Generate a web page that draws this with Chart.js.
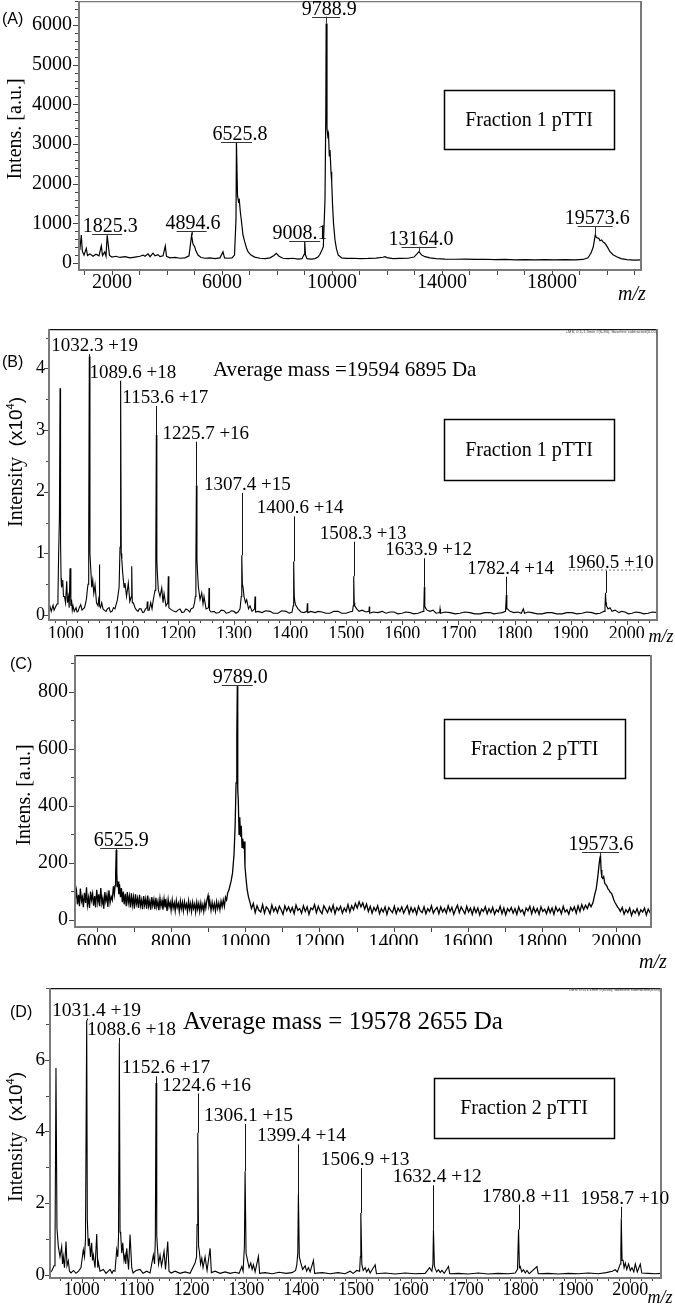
<!DOCTYPE html>
<html><head><meta charset="utf-8">
<script src="https://cdn.jsdelivr.net/npm/chart.js@4.4.1/dist/chart.umd.min.js"></script>
<style>
html,body{margin:0;padding:0;background:#fff;}
body{width:675px;height:1311px;position:relative;overflow:hidden;}
canvas{position:absolute;left:0;}
</style></head><body>
<canvas id="cA"></canvas>
<canvas id="cB"></canvas>
<canvas id="cC"></canvas>
<canvas id="cD"></canvas>
<script>
// ---------------- DATA ----------------
// Panel A: MALDI spectrum, Fraction 1 (m/z, intensity a.u.)
const mzA = [800,836,884,920,982,1065,1109,1200,1309,1418,1527,1611,1655,1735,1782,1825,1909,2000,2145,2291,2473,2655,2836,3018,3127,3200,3309,3382,3491,3564,3673,3745,3855,3938,3982,4109,4291,4473,4655,4800,4894,4945,5007,5055,5127,5236,5382,5564,5745,5927,6036,6091,6218,6364,6455,6509,6525,6564,6600,6629,6665,6702,6764,6825,6891,6945,7055,7189,7382,7564,7745,7891,7975,8073,8218,8400,8582,8764,8909,8989,9008,9036,9091,9236,9382,9491,9564,9618,9684,9745,9775,9788,9818,9847,9873,9902,9927,9964,9989,10018,10055,10109,10164,10229,10353,10509,10727,11018,11309,11600,11855,11927,12000,12218,12473,12764,12982,13091,13164,13262,13382,13564,13782,14109,14473,14836,15200,15564,15927,16291,16655,17018,17382,17745,18109,18473,18836,19127,19309,19418,19502,19573,19618,19702,19745,19807,19865,19927,20018,20109,20218,20353,20509,20727,20982,21273];
const intA = [350,380,706,300,200,370,190,230,170,220,180,430,190,280,170,700,190,150,170,140,160,130,150,170,200,170,230,160,250,180,210,160,180,428,170,130,140,120,130,180,700,480,410,300,200,140,120,130,110,130,285,130,120,130,200,1100,3050,1700,1550,1590,1300,1084,700,537,380,285,200,150,120,110,130,190,244,170,120,110,120,100,110,220,537,200,110,100,110,150,220,300,410,1590,3800,6040,3400,3200,3270,2700,2850,2300,2050,1500,1000,580,350,200,130,115,120,110,115,125,145,160,135,110,115,120,150,230,285,200,160,130,110,100,95,100,90,95,85,90,80,85,80,85,80,85,80,90,130,250,410,706,640,622,560,580,520,497,400,285,210,160,110,85,75,80];

// Panel B: ESI spectrum, Fraction 1 ([m/z, intensity x10^4])
const specB = [[970,0.1],[971.8,0.14],[974,0.06],[977.2,0.16],[979,0.08],[981,0.12],[984.3,0.18],[986,0.3],[987,0.9],[988.6,1.6],[989.7,3.68],[990.6,1.2],[991.5,0.6],[992.3,0.45],[993.3,0.5],[994.5,0.57],[995.8,0.3],[997.7,0.3],[999.5,0.2],[1001.6,0.55],[1003,0.2],[1004.8,0.3],[1006,0.12],[1007.5,0.76],[1009,0.15],[1010.2,0.25],[1011.5,0.08],[1012.8,0.15],[1015,0.06],[1018.2,0.12],[1020,0.05],[1021.8,0.06],[1024,0.12],[1026.6,0.17],[1028.9,0.08],[1031,0.1],[1033.3,0.12],[1035.5,0.2],[1037,0.28],[1038.3,0.41],[1039.6,0.5],[1040.8,1.3],[1041.9,4.2],[1043,1.0],[1044.4,0.76],[1046.2,0.45],[1048,0.57],[1049.9,0.35],[1052.1,0.49],[1054.7,0.2],[1057.4,0.15],[1059.2,0.3],[1059.7,0.82],[1060.6,0.15],[1061.9,0.12],[1064,0.2],[1066.3,0.1],[1068.5,0.08],[1071.7,0.06],[1074,0.1],[1077,0.12],[1079.5,0.05],[1082.4,0.06],[1085,0.12],[1087.7,0.1],[1090,0.18],[1092,0.25],[1093.6,0.36],[1095,0.45],[1096.6,1.1],[1097.7,3.8],[1098.8,1.0],[1099.8,0.9],[1101.4,0.68],[1103.8,0.45],[1105.5,0.52],[1108.2,0.3],[1111.4,0.52],[1114.1,0.22],[1116.8,0.3],[1117.5,0.79],[1118.5,0.2],[1120.3,0.2],[1123.4,0.12],[1126,0.08],[1128.7,0.06],[1131,0.1],[1134.1,0.1],[1137,0.04],[1139.4,0.05],[1142,0.1],[1144.6,0.12],[1145.3,0.22],[1146.3,0.08],[1148.5,0.08],[1151.4,0.2],[1153.7,0.1],[1156,0.25],[1158,0.35],[1159.1,0.4],[1160.4,1.0],[1161.4,2.92],[1162.3,0.9],[1163.1,0.7],[1164.9,0.41],[1167.9,0.3],[1171,0.44],[1173.3,0.2],[1175.1,0.35],[1178.6,0.15],[1181.8,0.2],[1182.7,0.63],[1183.7,0.12],[1186,0.1],[1189.3,0.08],[1193,0.06],[1196.5,0.05],[1200,0.08],[1203.6,0.1],[1207,0.04],[1210.7,0.05],[1214,0.1],[1217.9,0.08],[1221,0.05],[1223.2,0.1],[1227.3,0.12],[1229.5,0.2],[1230.9,0.3],[1231.9,0.9],[1232.8,2.1],[1233.8,0.9],[1234.8,0.7],[1236.3,0.46],[1239.3,0.25],[1242.3,0.36],[1244.6,0.18],[1246.4,0.3],[1250,0.1],[1254.5,0.12],[1255.3,0.44],[1256.2,0.08],[1259,0.05],[1264.2,0.06],[1268,0.03],[1273.1,0.04],[1277,0.08],[1282.1,0.07],[1286,0.03],[1291,0.04],[1295,0.07],[1299.9,0.06],[1303,0.03],[1307,0.05],[1310.6,0.1],[1312.8,0.3],[1313.4,0.5],[1314,0.97],[1314.8,0.5],[1316,0.45],[1317.7,0.3],[1320.4,0.2],[1322.5,0.25],[1325.7,0.1],[1328.4,0.15],[1332,0.06],[1336.5,0.1],[1337.3,0.3],[1338.3,0.05],[1343,0.06],[1349.8,0.04],[1356,0.07],[1364.1,0.06],[1370,0.03],[1378.3,0.03],[1385,0.07],[1392.6,0.06],[1398,0.03],[1403.3,0.05],[1405.4,0.15],[1406,0.4],[1406.5,0.87],[1407.3,0.3],[1408.6,0.2],[1410.4,0.15],[1414,0.1],[1419.3,0.05],[1424.7,0.04],[1429.8,0.06],[1430.6,0.19],[1431.4,0.04],[1437,0.06],[1444.3,0.04],[1450,0.06],[1456.8,0.05],[1464,0.03],[1471,0.03],[1478,0.06],[1485.3,0.06],[1492,0.03],[1499.6,0.03],[1506,0.05],[1511.2,0.06],[1512.4,0.15],[1513.3,0.63],[1514.2,0.2],[1515.1,0.15],[1518.6,0.1],[1522.8,0.06],[1528.1,0.08],[1535.2,0.05],[1540.4,0.06],[1541.1,0.14],[1541.8,0.03],[1548,0.05],[1556.6,0.04],[1564,0.06],[1570.9,0.03],[1578,0.05],[1585.2,0.05],[1592,0.02],[1599.4,0.03],[1606,0.05],[1613.7,0.04],[1620,0.02],[1628,0.03],[1634,0.05],[1636.9,0.06],[1638.3,0.12],[1639.2,0.46],[1640,0.15],[1641,0.12],[1644,0.08],[1649.4,0.06],[1654.7,0.08],[1660,0.03],[1666.5,0.04],[1667.2,0.1],[1668,0.03],[1676,0.05],[1685,0.04],[1694,0.02],[1702.8,0.03],[1711,0.05],[1720.7,0.04],[1729,0.02],[1738.5,0.02],[1747,0.04],[1756.3,0.04],[1763,0.02],[1770.6,0.03],[1778,0.04],[1784,0.06],[1785.4,0.33],[1786.3,0.1],[1787.2,0.1],[1792,0.06],[1799.1,0.04],[1806.2,0.05],[1812,0.03],[1815.7,0.1],[1817.8,0.03],[1824,0.05],[1831.2,0.04],[1840,0.02],[1849,0.02],[1858,0.04],[1866.9,0.04],[1875,0.02],[1884.7,0.02],[1893,0.04],[1902.5,0.04],[1911,0.02],[1920.4,0.03],[1929,0.05],[1938.2,0.04],[1945,0.02],[1952.4,0.03],[1959.6,0.06],[1961.3,0.12],[1962.2,0.36],[1963.1,0.2],[1964,0.15],[1966.7,0.1],[1970.3,0.12],[1973.8,0.06],[1979.2,0.08],[1986.3,0.04],[1991,0.06],[1997,0.05],[2003,0.02],[2009.5,0.03],[2016,0.05],[2023.8,0.04],[2030,0.02],[2038,0.03],[2046,0.05],[2055,0.04]];

// Panel C: MALDI spectrum, Fraction 2 ([m/z, intensity a.u.])
const specC = [[5420,70],[5455,102],[5480,55],[5510,88],[5535,48],[5560,110],[5590,66],[5615,80],[5640,45],[5670,95],[5700,60],[5725,115],[5750,52],[5780,78],[5805,42],[5835,100],[5860,70],[5890,92],[5915,50],[5945,84],[5970,44],[6000,106],[6030,62],[6055,90],[6080,48],[6110,112],[6140,58],[6165,76],[6190,40],[6220,98],[6245,66],[6275,88],[6300,46],[6330,104],[6360,60],[6390,82],[6420,70],[6450,118],[6475,90],[6495,120],[6510,160],[6526,245],[6540,170],[6555,115],[6575,135],[6595,90],[6615,125],[6640,80],[6665,112],[6690,62],[6715,100],[6740,55],[6770,92],[6795,48],[6825,98],[6850,60],[6880,84],[6905,44],[6935,94],[6960,52],[6990,80],[7015,40],[7045,90],[7070,56],[7100,76],[7125,42],[7155,88],[7180,50],[7210,70],[7235,38],[7265,84],[7290,52],[7320,74],[7345,40],[7375,86],[7400,48],[7430,68],[7455,36],[7485,80],[7510,50],[7540,72],[7565,38],[7595,78],[7620,46],[7650,66],[7675,34],[7705,76],[7730,48],[7760,68],[7785,36],[7815,74],[7840,44],[7870,64],[7895,32],[7925,72],[7950,46],[7980,62],[8005,34],[8035,70],[8060,42],[8090,60],[8115,32],[8145,68],[8170,44],[8200,58],[8225,30],[8255,66],[8280,40],[8310,62],[8335,32],[8365,64],[8390,42],[8420,56],[8445,30],[8475,66],[8500,38],[8530,58],[8555,30],[8585,62],[8610,40],[8640,56],[8665,28],[8695,62],[8720,38],[8750,58],[8775,30],[8805,60],[8830,36],[8860,54],[8885,30],[8915,62],[8940,42],[8970,70],[9000,86],[9025,50],[9050,64],[9080,34],[9110,62],[9140,38],[9170,58],[9200,32],[9230,64],[9260,40],[9290,60],[9320,36],[9350,66],[9380,46],[9410,70],[9440,48],[9470,80],[9500,70],[9530,96],[9560,104],[9590,120],[9620,135],[9660,165],[9700,230],[9730,330],[9755,480],[9775,640],[9789,823],[9800,455],[9815,420],[9835,300],[9855,360],[9875,292],[9895,330],[9915,255],[9935,285],[9955,250],[9975,275],[9995,187],[10020,150],[10050,110],[10090,80],[10130,62],[10170,40],
[10220,58],[10270,26],[10320,50],[10370,34],[10420,28],[10470,54],[10520,24],[10570,46],[10620,38],[10670,22],[10720,52],[10770,30],[10820,44],[10870,26],[10920,48],[10970,36],[11020,20],[11070,50],[11120,32],[11170,46],
[11220,28],[11270,44],[11320,22],[11370,52],[11420,34],[11470,40],[11520,24],[11570,50],[11620,30],[11670,46],[11720,20],[11770,42],[11820,36],[11870,54],[11920,26],[11970,48],[12020,32],[12070,22],[12120,50],[12170,38],
[12220,26],[12270,46],[12320,30],[12370,52],[12420,22],[12470,44],[12520,34],[12570,48],[12620,24],[12670,42],[12720,30],[12770,54],[12820,28],[12870,50],[12920,36],[12970,58],[13020,42],[13070,64],[13120,46],[13170,60],
[13220,38],[13270,56],[13320,30],[13370,48],[13420,24],[13470,44],[13520,32],[13570,50],[13620,22],[13670,40],[13720,28],[13770,46],[13820,20],[13870,44],[13920,34],[13970,26],[14020,48],[14070,22],[14120,42],[14170,30],
[14220,46],[14270,24],[14320,38],[14370,50],[14420,22],[14470,44],[14520,28],[14570,42],[14620,20],[14670,48],[14720,32],[14770,26],[14820,46],[14870,22],[14920,40],[14970,30],[15020,50],[15070,24],[15120,36],[15170,44],
[15220,22],[15270,46],[15320,28],[15370,40],[15420,24],[15470,50],[15520,30],[15570,44],[15620,20],[15670,38],[15720,52],[15770,26],[15820,46],[15870,34],[15920,22],[15970,48],[16020,28],[16070,42],[16120,20],[16170,44],
[16220,26],[16270,42],[16320,18],[16370,38],[16420,30],[16470,46],[16520,22],[16570,40],[16620,26],[16670,44],[16720,20],[16770,36],[16820,28],[16870,48],[16920,22],[16970,42],[17020,18],[17070,40],[17120,30],[17170,44],
[17220,24],[17270,40],[17320,20],[17370,46],[17420,28],[17470,36],[17520,18],[17570,42],[17620,32],[17670,48],[17720,22],[17770,44],[17820,26],[17870,40],[17920,20],[17970,46],[18020,30],[18070,38],[18120,22],[18170,44],
[18220,26],[18270,42],[18320,20],[18370,46],[18420,30],[18470,40],[18520,22],[18570,48],[18620,28],[18670,36],[18720,20],[18770,44],[18820,32],[18870,46],[18920,24],[18970,50],[19020,30],[19070,54],[19120,36],[19170,52],
[19220,40],[19270,58],[19320,46],[19370,60],[19420,90],[19460,110],[19500,150],[19530,187],[19555,215],[19574,225],[19590,175],[19610,150],[19635,146],[19660,152],[19690,128],[19720,124],[19750,118],[19780,108],[19810,104],[19840,96],[19870,94],[19900,84],[19930,72],[19960,62],[19990,56],[20030,46],[20070,40],[20110,30],[20160,44],[20210,20],[20260,36],[20310,26],[20360,42],[20410,16],[20460,34],[20510,24],[20560,40],[20610,18],[20660,36],[20710,28],[20760,42],[20810,18],[20860,38],[20910,26],[20960,40]];

// Panel D: ESI spectrum, Fraction 2 ([m/z, intensity x10^4])
const specD = [[942.2,0.05],[945.8,0.12],[949.5,0.25],[951.3,0.6],[953.1,5.77],[954.9,1.3],[957.3,0.8],[960.4,0.5],[963.5,0.79],[965,0.3],[966.4,0.51],[968.6,0.2],[971.4,0.93],[973.2,0.25],[975.6,0.39],[977.7,0.1],[980.5,0.05],[985,0.12],[989.6,0.04],[994.2,0.1],[998.7,0.2],[1002.9,0.7],[1005.1,0.5],[1006.9,1.0],[1009.1,7.1],[1010.2,1.54],[1012,0.8],[1013.9,1.02],[1016,0.5],[1018.2,0.89],[1019.7,0.4],[1021.2,0.55],[1024.3,0.2],[1027.4,1.14],[1029.2,0.2],[1030.3,0.35],[1033.4,0.1],[1039.4,0.15],[1044.3,0.04],[1051.6,0.15],[1055.3,0.04],[1057.6,0.12],[1060.7,0.1],[1063.8,0.7],[1065.8,0.5],[1067.1,1.07],[1068.6,6.47],[1069.9,1.2],[1071.1,1.12],[1073,0.6],[1074.8,0.89],[1077.2,0.4],[1079,0.55],[1080.4,0.3],[1082.1,0.74],[1085.4,0.15],[1088.1,1.12],[1091.2,0.2],[1093.6,0.05],[1099,0.12],[1106.3,0.15],[1111.8,0.04],[1118.5,0.1],[1124.6,0.05],[1130.6,0.55],[1132.8,0.3],[1134.2,1.0],[1135.5,5.35],[1136.8,1.1],[1137.9,0.79],[1140.1,0.3],[1142.8,0.55],[1145.5,0.25],[1147.4,0.4],[1150.1,0.65],[1152.8,0.15],[1156.8,0.93],[1159.2,0.1],[1162.9,0.05],[1170.2,0.1],[1179.3,0.04],[1188.4,0.08],[1197.5,0.04],[1206.6,0.33],[1209.4,0.5],[1210.3,1.4],[1211.6,3.96],[1213,0.8],[1214.5,0.65],[1216.7,0.3],[1218.9,0.46],[1221.2,0.2],[1224.9,0.5],[1228.5,0.12],[1234,0.74],[1236.4,0.06],[1243.1,0.1],[1252.2,0.04],[1261.4,0.08],[1270.5,0.04],[1279.6,0.07],[1286.9,0.04],[1291.8,0.23],[1294.2,0.1],[1296.6,0.8],[1297.8,2.89],[1299.6,0.6],[1302,0.42],[1305.1,0.2],[1308.2,0.33],[1310.6,0.15],[1313,0.28],[1316.1,0.08],[1322.1,0.51],[1324.3,0.04],[1334.3,0.06],[1347.1,0.03],[1359.8,0.07],[1372.6,0.04],[1383.5,0.06],[1389.9,0.12],[1392.1,0.28],[1393.9,0.6],[1395,2.25],[1396.7,0.5],[1399.4,0.33],[1402.7,0.15],[1407.3,0.25],[1410,0.1],[1413.3,0.2],[1416.4,0.08],[1422.4,0.4],[1424.6,0.04],[1438.3,0.06],[1452.9,0.03],[1467.4,0.06],[1480.2,0.03],[1489.3,0.1],[1494.8,0.04],[1501.5,0.12],[1506.6,0.1],[1507.9,0.5],[1508.8,1.72],[1510.7,0.28],[1513,0.12],[1516.7,0.2],[1519.4,0.08],[1522.7,0.17],[1525.8,0.05],[1534.9,0.28],[1537.3,0.03],[1553.2,0.05],[1571.4,0.02],[1589.6,0.05],[1607.9,0.03],[1626.1,0.04],[1634,0.2],[1638.3,0.1],[1640.2,0.3],[1641.2,1.26],[1642.9,0.25],[1644.4,0.17],[1647.1,0.08],[1650.4,0.14],[1653.5,0.06],[1656.6,0.12],[1660.8,0.04],[1668.6,0.23],[1670.8,0.03],[1686.3,0.04],[1704.5,0.02],[1722.8,0.05],[1741,0.02],[1759.2,0.04],[1777.5,0.03],[1790.2,0.05],[1794.4,0.15],[1796.3,1.26],[1797.9,0.2],[1799.4,0.23],[1802.1,0.08],[1805.4,0.14],[1808.5,0.05],[1811.6,0.12],[1815.8,0.03],[1829.8,0.23],[1832.2,0.03],[1850.4,0.04],[1868.7,0.02],[1886.9,0.04],[1905.2,0.03],[1923.4,0.05],[1941.7,0.03],[1956.2,0.06],[1967.2,0.1],[1972.6,0.14],[1976.3,0.08],[1981.7,0.3],[1982.8,0.7],[1983.6,1.58],[1985,0.4],[1986.7,0.42],[1988.7,0.2],[1990.9,0.33],[1993.6,0.15],[1996.9,0.3],[2000,0.12],[2003.1,0.2],[2006.4,0.08],[2009.1,0.3],[2012.8,0.08],[2018.2,0.3],[2020.9,0.05],[2032.8,0.04],[2045.5,0.03],[2056.4,0.04]];

// Tick labels (major ticks)
const ticksAX = [2000,6000,10000,14000,18000];
const ticksAY = [0,1000,2000,3000,4000,5000,6000];
const ticksBX = [1000,1100,1200,1300,1400,1500,1600,1700,1800,1900,2000];
const ticksBY = [0,1,2,3,4];
const ticksCX = [6000,8000,10000,12000,14000,16000,18000,20000];
const ticksCY = [0,200,400,600,800];
const ticksDX = [1000,1100,1200,1300,1400,1500,1600,1700,1800,1900,2000];
const ticksDY = [0,2,4,6];

// Peak annotations
const peaksA = [
  {x:1825, top:731, text:'1825.3', dx:3, hw:15},
  {x:4894, top:807, text:'4894.6', dx:1.5, hw:15},
  {x:6525, top:3058, text:'6525.8', dx:3.5, hw:15.5},
  {x:9008, top:557, text:'9008.1', dx:-4.7, hw:15.5},
  {x:9788, top:6210, text:'9788.9', dx:3, hw:14},
  {x:13164, top:410, text:'13164.0', dx:2, hw:17.5},
  {x:19573, top:933, text:'19573.6', dx:2, hw:17.5}
];
const peaksC = [
  {x:6526, top:251, text:'6525.9', dx:5, hw:16},
  {x:9789, top:823, text:'9789.0', dx:3, hw:15.5},
  {x:19574, top:237, text:'19573.6', dx:0.5, hw:18.5}
];
const peaksB = [
  {x:1041.9, top:4.28, text:'1032.3 +19', dx:-38},
  {x:1097.7, top:3.85, text:'1089.6 +18', dx:-31},
  {x:1161.4, top:3.44, text:'1153.6 +17', dx:-34},
  {x:1232.8, top:2.86, text:'1225.7 +16', dx:-34},
  {x:1314.0, top:2.03, text:'1307.4 +15', dx:-38},
  {x:1406.5, top:1.65, text:'1400.6 +14', dx:-37},
  {x:1513.3, top:1.24, text:'1508.3 +13', dx:-34},
  {x:1639.2, top:0.97, text:'1633.9 +12', dx:-39},
  {x:1785.4, top:0.67, text:'1782.4 +14', dx:-39},
  {x:1962.2, top:0.77, text:'1960.5 +10', dx:-38.5, dotted:true}
];
const peaksD = [
  {x:1009.1, top:7.23, text:'1031.4 +19', dx:-34.7},
  {x:1068.6, top:6.69, text:'1088.6 +18', dx:-32.3},
  {x:1135.5, top:5.62, text:'1152.6 +17', dx:-34},
  {x:1211.6, top:5.14, text:'1224.6 +16', dx:-35.7},
  {x:1297.8, top:4.29, text:'1306.1 +15', dx:-41},
  {x:1395.0, top:3.72, text:'1399.4 +14', dx:-41.3},
  {x:1508.8, top:3.06, text:'1506.9 +13', dx:-40.2},
  {x:1641.2, top:2.58, text:'1632.4 +12', dx:-40.6},
  {x:1796.3, top:2.04, text:'1780.8 +11', dx:-36.6},
  {x:1983.6, top:1.98, text:'1958.7 +10', dx:-41}
];

// ---------------- RENDERING ----------------
const SERIF = '"Liberation Serif","Times New Roman",serif';
const SANS = '"Liberation Sans",Arial,sans-serif';

function tickList(min, max, step){
  const out=[];
  for(let k=Math.ceil(min/step-1e-9); k*step<=max+1e-9; k++) out.push(Math.round(k*step*1e6)/1e6);
  return out;
}
function seg(ctx,x1,y1,x2,y2){ctx.beginPath();ctx.moveTo(x1,y1);ctx.lineTo(x2,y2);ctx.stroke();}
function nearestY(pts,x){let b=pts[0],d=Infinity;pts.forEach(p=>{const e=Math.abs(p.x-x);if(e<d){d=e;b=p;}});return b.y;}

function yTitle(ctx, cx, cy, parts){
  ctx.save(); ctx.translate(cx, cy); ctx.rotate(-Math.PI/2);
  let w=0; parts.forEach(p=>{ctx.font=p.font; w+=ctx.measureText(p.t).width;});
  let x=-w/2; ctx.textBaseline='middle'; ctx.textAlign='left'; ctx.fillStyle='#000';
  parts.forEach(p=>{ctx.font=p.font; ctx.fillText(p.t, x, p.dy||0); x+=ctx.measureText(p.t).width;});
  ctx.restore();
}

function makePanel(p){
  const cv=document.getElementById(p.id);
  cv.style.top=p.top+'px'; cv.width=675; cv.height=p.height;
  cv.style.width='675px'; cv.style.height=p.height+'px';
  const L=p.area[0], T=p.area[1]-p.top, R=p.area[2], B=p.area[3]-p.top;
  const XH=18;
  const pts=p.pts;
  const xTicks=tickList(p.xmin,p.xmax,p.xStep), yTicks=tickList(p.ymin,p.ymax,p.yStep);
  const decor={id:'decor'+p.id, afterDatasetsDraw(chart){
    const ctx=chart.ctx, xs=chart.scales.x, ys=chart.scales.y, ca=chart.chartArea;
    ctx.save();
    ctx.strokeStyle=p.topColor; ctx.lineWidth=1.2; seg(ctx,ca.left,ca.top+0.6,ca.right,ca.top+0.6);
    ctx.strokeStyle='#7a7a7a'; ctx.lineWidth=2;
    seg(ctx,ca.right-1,ca.top,ca.right-1,ca.bottom+1);
    seg(ctx,ca.left-1,ca.bottom,ca.right,ca.bottom);
    seg(ctx,ca.left,ca.top,ca.left,ca.bottom+1);
    ctx.lineWidth=1; ctx.strokeStyle='#444';
    xs.ticks.forEach(t=>{const px=Math.round(xs.getPixelForValue(t.value))+0.5; const len=p.xMajor.includes(t.value)?p.xLen[0]:p.xLen[1]; seg(ctx,px,ca.bottom+1,px,ca.bottom+1+len);});
    ys.ticks.forEach(t=>{const py=Math.round(ys.getPixelForValue(t.value))+0.5; const len=p.yMajor.includes(t.value)?p.yLen[0]:p.yLen[1]; seg(ctx,ca.left-1,py,ca.left-1-len,py);});
    ctx.fillStyle='#000'; ctx.textBaseline='alphabetic';
    (p.peaks||[]).forEach(k=>{
      const px=xs.getPixelForValue(k.x), pyTop=ys.getPixelForValue(k.top), pyPeak=ys.getPixelForValue(nearestY(pts,k.x));
      ctx.font=p.peakFont;
      if(p.peakStyle==='u'){
        ctx.textAlign='center'; ctx.fillText(k.text, px+k.dx, pyTop-2);
        ctx.strokeStyle='#333'; ctx.lineWidth=1;
        seg(ctx,px-k.hw,Math.round(pyTop)+0.5,px+k.hw,Math.round(pyTop)+0.5);
        if(pyPeak>pyTop+1){seg(ctx,Math.round(px)+0.5,pyTop,Math.round(px)+0.5,pyPeak);}
      } else {
        ctx.textAlign='left'; ctx.fillText(k.text, px+k.dx, pyTop);
        ctx.strokeStyle='#111'; ctx.lineWidth=1;
        if(pyPeak>pyTop+3){seg(ctx,Math.round(px)+0.5,pyTop+3,Math.round(px)+0.5,pyPeak);}
        if(k.dotted){ctx.save();ctx.setLineDash([2,2]);ctx.strokeStyle='#777';seg(ctx,px+k.dx+2,pyTop+2.5,px+k.dx+76,pyTop+2.5);ctx.restore();}
      }
    });
    const o=p.top;
    (p.notes||[]).forEach(n=>{
      ctx.fillStyle=n.color||'#000'; ctx.font=n.font; ctx.textAlign=n.align||'left'; ctx.textBaseline='middle';
      ctx.fillText(n.t, n.x, n.y-o);
    });
    if(p.box){const b=p.box; ctx.strokeStyle='#000'; ctx.lineWidth=1.5; ctx.strokeRect(b.x+0.5,b.y-o+0.5,b.w,b.h);
      ctx.font='20px '+SERIF; ctx.textAlign='center'; ctx.textBaseline='middle'; ctx.fillStyle='#000'; ctx.fillText(b.t,b.x+b.w/2,b.y-o+b.h/2+1);}
    if(p.ytitle){yTitle(ctx,p.ytitle.x,p.ytitle.y-o,p.ytitle.parts);}
    ctx.restore();
  }};
  return new Chart(cv,{
    type:'scatter',
    data:{datasets:[{data:pts,showLine:true,borderColor:'#000',borderWidth:p.lw,pointRadius:0,pointHoverRadius:0,tension:0,fill:false}]},
    options:{
      responsive:false, maintainAspectRatio:false, animation:false, events:[], devicePixelRatio:1,
      plugins:{legend:{display:false},tooltip:{enabled:false},title:{display:false}},
      layout:{padding:{left:0,right:675-R,top:T,bottom:p.height-B-XH}},
      scales:{
        x:{type:'linear',min:p.xmin,max:p.xmax,
          afterBuildTicks:s=>{s.ticks=xTicks.map(v=>({value:v}));},
          afterFit:s=>{s.height=XH;s.paddingLeft=0;s.paddingRight=0;},
          grid:{display:false,drawTicks:false},border:{display:false},
          ticks:{autoSkip:false,maxRotation:0,minRotation:0,padding:p.xPad,color:'#000',font:{family:SERIF,size:p.xFont},
            callback:v=>p.xMajor.includes(v)?String(v):''}},
        y:{type:'linear',min:p.ymin,max:p.ymax,
          afterBuildTicks:s=>{s.ticks=yTicks.map(v=>({value:v}));},
          afterFit:s=>{s.width=L;s.paddingTop=0;s.paddingBottom=0;},
          grid:{display:false,drawTicks:false},border:{display:false},
          ticks:{autoSkip:false,padding:p.yPad,color:'#000',font:{family:SERIF,size:p.yFont},
            callback:v=>p.yMajor.includes(v)?String(v):''}}
      }
    },
    plugins:[decor]
  });
}

const toPts = arr => arr.map(a=>({x:a[0],y:a[1]}));
const intensityTitle = [
  {t:'Intensity', font:'20px '+SERIF},
  {t:'  (x10', font:'19px '+SANS},
  {t:'4', font:'11px '+SANS, dy:-6},
  {t:')', font:'19px '+SANS}
];

makePanel({id:'cA', top:0, height:320, area:[79,1,642,270],
  pts: mzA.map((x,i)=>({x, y:intA[i]})), lw:1.2,
  xmin:800, xmax:21273, ymin:-176, ymax:6605, xStep:1000, yStep:200,
  xMajor:ticksAX, yMajor:ticksAY, xLen:[4,4], yLen:[5,3], xFont:20, yFont:20, xPad:1, yPad:7,
  topColor:'#7a7a7a', peaks:peaksA, peakStyle:'u', peakFont:'20px '+SERIF,
  notes:[{t:'(A)',x:2,y:20,font:'16px '+SANS},{t:'m/z',x:632,y:295,font:'italic 20px '+SERIF,align:'center'}],
  box:{x:444,y:90,w:170,h:59,t:'Fraction 1 pTTI'},
  ytitle:{x:16,y:129,parts:[{t:'Intens. [a.u.]',font:'20px '+SERIF}]}
});

makePanel({id:'cB', top:320, height:325, area:[49,329,658,620],
  pts: toPts(specB), lw:1.1,
  xmin:970, xmax:2055.8, ymin:-0.08, ymax:4.64, xStep:20, yStep:0.5,
  xMajor:ticksBX, yMajor:ticksBY, xLen:[4,2], yLen:[4,2], xFont:18, yFont:18, xPad:3, yPad:4,
  topColor:'#111', peaks:peaksB, peakStyle:'c', peakFont:'19px '+SERIF,
  notes:[{t:'(B)',x:2,y:363,font:'16px '+SANS},
    {t:'Average mass =19594 6895 Da',x:213,y:370,font:'21px '+SERIF},
    {t:'m/z',x:661,y:637,font:'italic 18px '+SERIF,align:'center'},
    {t:'+MS, 0.1-1.3min #(6-80), Baseline subtracted(0.05)',x:657,y:332,font:'4px '+SANS,align:'right',color:'#444'}],
  box:{x:444,y:419,w:170,h:61,t:'Fraction 1 pTTI'},
  ytitle:{x:17,y:462,parts:intensityTitle}
});

makePanel({id:'cC', top:645, height:330, area:[75,655,652,927],
  pts: toPts(specC), lw:1.3,
  xmin:5415, xmax:20962, ymin:-24.5, ymax:928.5, xStep:1000, yStep:100,
  xMajor:ticksCX, yMajor:ticksCY, xLen:[4,4], yLen:[5,3], xFont:20, yFont:20, xPad:4, yPad:7,
  topColor:'#111', peaks:peaksC, peakStyle:'u', peakFont:'20px '+SERIF,
  notes:[{t:'(C)',x:10,y:665,font:'16px '+SANS},{t:'m/z',x:653,y:963,font:'italic 20px '+SERIF,align:'center'}],
  box:{x:444,y:719,w:181,h:59,t:'Fraction 2 pTTI'},
  ytitle:{x:25,y:795,parts:[{t:'Intens. [a.u.]',font:'20px '+SERIF}]}
});

makePanel({id:'cD', top:975, height:336, area:[50,988,662,1278],
  pts: toPts(specD), lw:1.1,
  xmin:942.2, xmax:2057.8, ymin:-0.09, ymax:8.0, xStep:20, yStep:1,
  xMajor:ticksDX, yMajor:ticksDY, xLen:[4,2], yLen:[4,3], xFont:18, yFont:19, xPad:1, yPad:5,
  topColor:'#111', peaks:peaksD, peakStyle:'c', peakFont:'19.5px '+SERIF,
  notes:[{t:'(D)',x:10,y:1013,font:'16px '+SANS},
    {t:'Average mass = 19578 2655 Da',x:183,y:1022,font:'25px '+SERIF},
    {t:'m/z',x:660,y:1298,font:'italic 18px '+SERIF,align:'center'},
    {t:'+MS, 0.1-1.1min #(6-66), Baseline subtracted(0.05)',x:660,y:990,font:'4px '+SANS,align:'right',color:'#444'}],
  box:{x:434,y:1078,w:180,h:60,t:'Fraction 2 pTTI'},
  ytitle:{x:17,y:1137,parts:intensityTitle}
});
</script>
</body></html>
